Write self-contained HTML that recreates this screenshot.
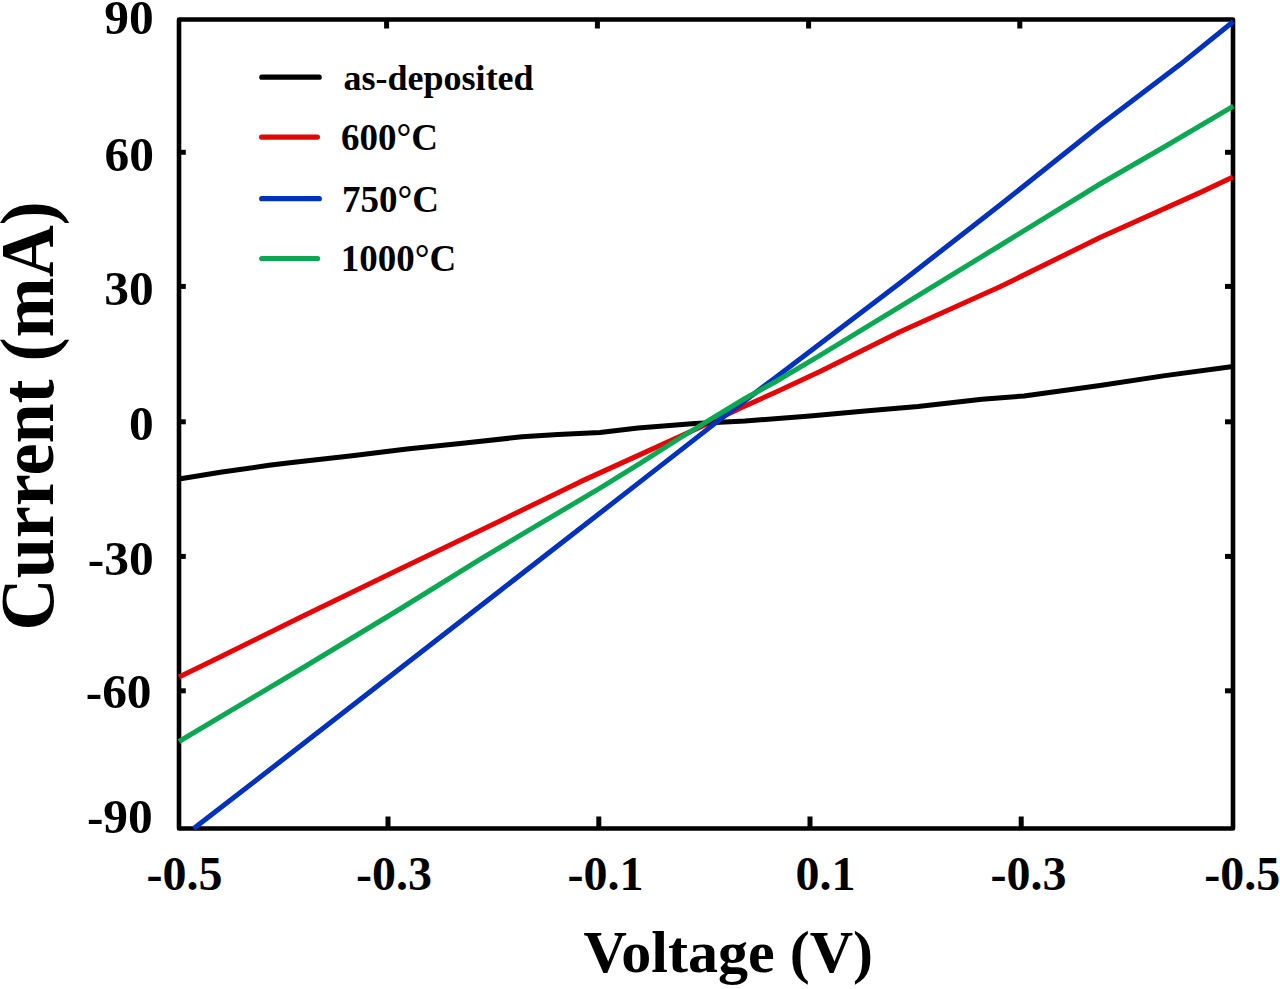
<!DOCTYPE html>
<html>
<head>
<meta charset="utf-8">
<style>
html,body{margin:0;padding:0;background:#fff;}
body{width:1280px;height:989px;overflow:hidden;}
svg{display:block;}
text{font-family:"Liberation Serif",serif;font-weight:bold;fill:#000;}
</style>
</head>
<body>
<svg width="1280" height="989" viewBox="0 0 1280 989">
<rect x="0" y="0" width="1280" height="989" fill="#fff"/>

<!-- frame -->
<rect x="179" y="19.5" width="1054" height="809" fill="none" stroke="#000" stroke-width="4.6" stroke-linejoin="round"/>

<!-- data lines -->
<g fill="none" stroke-width="5" stroke-linejoin="round" stroke-linecap="butt">
<polyline stroke="#e40606" points="179,676.9 215,659.5 300,617.5 400,569.1 500,520.9 580,481.9 640,454.6 700,427.3 745,406 775,392.5 820,371.6 900,331.8 1000,286.8 1100,237.5 1200,192.6 1233,177"/>
<polyline stroke="#000" points="179,479 222,472 269,465.3 292,462.5 350,456 407,449 465,443.1 522,436.8 558,434.5 600,432.5 638,428 695,423.6 745,421 810,415.9 868,410.7 918,406.4 982,399.2 1024,396 1100,385.5 1165,375.6 1233,366.5"/>
<polyline stroke="#0032be" points="193.7,828.5 300,746.3 500,590.7 640,481.9 715,423.4 775,377.9 900,283 1000,205 1100,125.3 1180,64.6 1233.4,21.5"/>
<polyline stroke="#0aa852" points="179,741.5 300,669.5 400,609 480,559.4 540,523.6 600,488.2 640,463.4 680,438 715,416.7 745,398.5 775,382 820,355.4 900,306.7 1000,245.5 1100,184 1165,146.5 1233.4,106.1"/>
</g>

<!-- ticks -->
<g stroke="#000" stroke-width="5">
<line x1="179" y1="152.3" x2="185.8" y2="152.3"/>
<line x1="179" y1="286.4" x2="185.8" y2="286.4"/>
<line x1="179" y1="421.8" x2="185.8" y2="421.8"/>
<line x1="179" y1="556.4" x2="185.8" y2="556.4"/>
<line x1="179" y1="690.8" x2="185.8" y2="690.8"/>
<line x1="1233" y1="152.3" x2="1225" y2="152.3"/>
<line x1="1233" y1="286.4" x2="1225" y2="286.4"/>
<line x1="1233" y1="421.8" x2="1225" y2="421.8"/>
<line x1="1233" y1="556.4" x2="1225" y2="556.4"/>
<line x1="1233" y1="690.8" x2="1225" y2="690.8"/>
<line x1="388" y1="828.5" x2="388" y2="816.5"/>
<line x1="598.8" y1="828.5" x2="598.8" y2="816.5"/>
<line x1="810" y1="828.5" x2="810" y2="816.5"/>
<line x1="1021.2" y1="828.5" x2="1021.2" y2="816.5"/>
<line x1="386.6" y1="19.5" x2="386.6" y2="28.5"/>
<line x1="597.4" y1="19.5" x2="597.4" y2="28.5"/>
<line x1="808.6" y1="19.5" x2="808.6" y2="28.5"/>
<line x1="1019.8" y1="19.5" x2="1019.8" y2="28.5"/>
</g>

<!-- y tick labels -->
<g font-size="48" text-anchor="end">
<text transform="translate(153.7,34.2) scale(1.03,1)">90</text>
<text transform="translate(153.9,170.6) scale(1.03,1)">60</text>
<text transform="translate(153.7,305.4) scale(1.03,1)">30</text>
<text transform="translate(153.7,440) scale(1.03,1)">0</text>
<text transform="translate(153.7,574.6) scale(1.03,1)">-30</text>
<text transform="translate(151.6,708) scale(1.03,1)">-60</text>
<text transform="translate(152.8,833) scale(1.03,1)">-90</text>
</g>

<!-- x tick labels -->
<g font-size="48">
<text x="146.5" y="890.2">-0.5</text>
<text x="356" y="890.2">-0.3</text>
<text x="567.6" y="890.2">-0.1</text>
<text x="795.6" y="890.2">0.1</text>
<text x="990.6" y="890.2">-0.3</text>
<text x="1204.2" y="890.2">-0.5</text>
</g>

<!-- axis titles -->
<text transform="translate(583.5,971.8) scale(1.018,1)" font-size="59">Voltage (V)</text>
<text transform="translate(53.2,630.4) rotate(-90) scale(0.955,1)" font-size="75.5">Current (mA)</text>

<!-- legend -->
<g stroke-width="5.2" stroke-linecap="round">
<line x1="261.8" y1="77.2" x2="319.2" y2="77.2" stroke="#000"/>
<line x1="261.6" y1="137.1" x2="317.4" y2="137.1" stroke="#e40606"/>
<line x1="261.7" y1="198.7" x2="319.3" y2="198.7" stroke="#0032be"/>
<line x1="261.7" y1="258.5" x2="317.6" y2="258.5" stroke="#0aa852"/>
</g>
<g font-size="36">
<text x="343.6" y="89.5">as-deposited</text>
</g>
<g font-size="37">
<text x="341" y="149.8">600°C</text>
<text x="342" y="211.6">750°C</text>
<text x="340.8" y="271.4">1000°C</text>
</g>
</svg>
</body>
</html>
